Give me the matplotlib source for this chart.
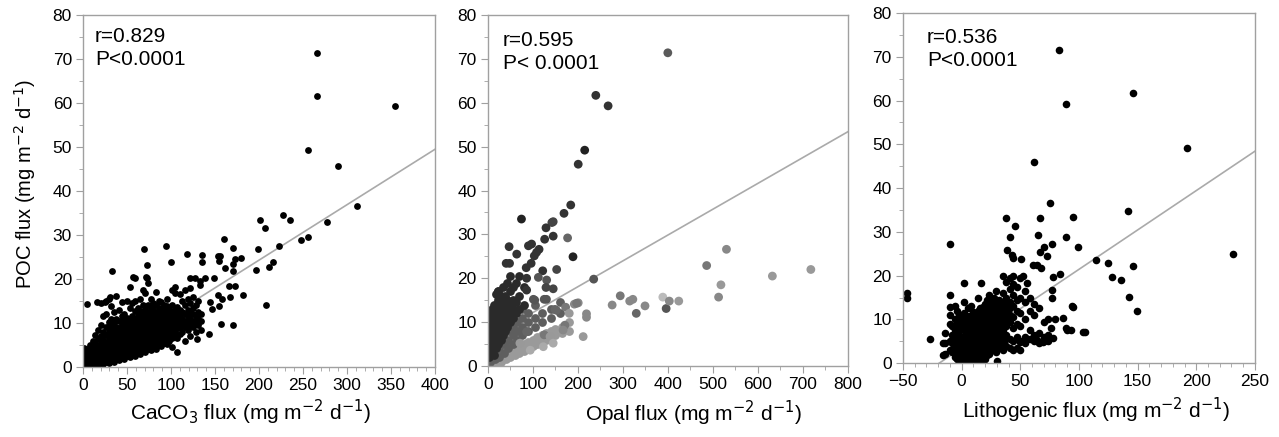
import matplotlib
matplotlib.use("Agg")
import matplotlib.pyplot as plt
from matplotlib.ticker import MultipleLocator

plt.rcParams['font.family'] = ['Liberation Sans', 'DejaVu Sans']

# ---- panel 1: POC vs CaCO3 flux ----
# dense cloud, one entry per CaCO3 column: (caco3, [poc values])
ca_cloud = [
    (1, [0.3, 1.2, 2.2, 3.4, 4.3]),
    (3, [0.5, 1.5, 2.8]),
    (5, [0.2, 1.0, 2.0, 3.0, 4.2]),
    (8, [0.5, 1.6, 2.6, 3.6, 5.0]),
    (11, [0.3, 1.2, 2.3, 3.4, 4.5, 6.0]),
    (14, [0.8, 1.8, 2.9, 4.0, 5.5, 7.2]),
    (17, [0.5, 1.5, 2.6, 3.7, 4.8, 6.3, 8.5]),
    (20, [1.0, 2.0, 3.1, 4.2, 5.4, 7.0, 9.5, 14.5]),
    (23, [0.6, 1.6, 2.7, 3.8, 5.0, 6.2, 8.0, 11.5]),
    (26, [1.2, 2.3, 3.4, 4.6, 5.8, 7.2, 9.0, 12.0, 15.0]),
    (29, [1.0, 2.0, 3.1, 4.2, 5.4, 6.6, 8.2, 10.2, 15.5]),
    (32, [1.5, 2.6, 3.7, 4.9, 6.1, 7.4, 9.0, 11.0, 13.8]),
    (35, [1.2, 2.3, 3.5, 4.7, 5.9, 7.1, 8.5, 10.0, 12.5]),
    (38, [1.8, 3.0, 4.2, 5.4, 6.6, 7.8, 9.2, 11.0, 16.2]),
    (41, [1.5, 2.7, 3.9, 5.1, 6.3, 7.5, 8.8, 10.4, 13.0]),
    (44, [2.2, 3.4, 4.6, 5.8, 7.0, 8.2, 9.5, 11.5, 14.8]),
    (47, [1.8, 3.0, 4.3, 5.5, 6.7, 7.9, 9.1, 10.6, 12.0]),
    (50, [2.5, 3.7, 4.9, 6.1, 7.3, 8.5, 9.8, 11.2, 15.0]),
    (53, [2.2, 3.4, 4.6, 5.8, 7.0, 8.2, 9.4, 10.8, 13.5, 18.2]),
    (56, [2.8, 4.0, 5.2, 6.4, 7.6, 8.8, 10.0, 11.5, 14.5]),
    (59, [2.6, 3.8, 5.0, 6.2, 7.4, 8.6, 9.8, 11.0, 12.8, 15.0]),
    (62, [3.2, 4.4, 5.6, 6.8, 8.0, 9.2, 10.4, 11.8, 13.5]),
    (65, [3.0, 4.2, 5.4, 6.6, 7.8, 9.0, 10.2, 11.4, 12.8, 15.5]),
    (68, [3.6, 4.8, 6.0, 7.2, 8.4, 9.6, 10.8, 12.2, 14.0, 17.5]),
    (71, [3.4, 4.6, 5.8, 7.0, 8.2, 9.4, 10.6, 11.8, 13.2, 16.8]),
    (74, [4.0, 5.2, 6.4, 7.6, 8.8, 10.0, 11.2, 12.5, 14.0, 19.2]),
    (77, [3.8, 5.0, 6.2, 7.4, 8.6, 9.8, 11.0, 12.2, 13.6, 15.5]),
    (80, [4.5, 5.7, 6.9, 8.1, 9.3, 10.5, 11.7, 13.0, 14.5]),
    (83, [4.2, 5.4, 6.6, 7.8, 9.0, 10.2, 11.4, 12.6, 14.0, 17.0]),
    (86, [5.0, 6.2, 7.4, 8.6, 9.8, 11.0, 12.2, 13.5, 15.0]),
    (89, [4.8, 6.0, 7.2, 8.4, 9.6, 10.8, 12.0, 13.2, 14.8]),
    (92, [5.5, 6.7, 7.9, 9.1, 10.3, 11.5, 12.7, 14.0]),
    (95, [5.2, 6.4, 7.6, 8.8, 10.0, 11.2, 12.4, 13.8, 15.5]),
    (98, [6.0, 7.2, 8.4, 9.6, 10.8, 12.0, 13.2]),
    (101, [4.5, 6.5, 7.7, 8.9, 10.1, 11.3, 12.5, 14.0, 17.5]),
    (104, [7.0, 8.2, 9.4, 10.6, 11.8, 13.0, 16.8, 18.2]),
    (107, [6.5, 8.8, 10.0, 11.2, 12.4, 13.6]),
    (110, [7.5, 9.0, 10.5, 12.0, 13.0, 16.5]),
    (113, [8.0, 9.5, 11.0, 12.5, 15.0]),
    (116, [6.0, 9.0, 10.5, 12.0, 14.0, 17.5]),
    (119, [8.5, 10.0, 11.5, 13.0, 15.5]),
    (122, [7.0, 9.5, 11.0, 12.5, 14.5, 18.0]),
    (125, [9.0, 10.5, 12.0, 13.5, 16.0]),
    (128, [8.0, 10.0, 11.5, 14.0]),
    (131, [9.5, 11.0, 12.5, 15.0]),
    (134, [8.5, 10.5, 12.0]),
]
# scattered points (caco3, poc)
ca_outliers = [
    (265.7, 71.3), (265.7, 61.6), (354.6, 59.4), (255.4, 49.4), (289.5, 45.8),
    (311.8, 36.5), (277.8, 33.0), (201, 33.4), (207, 31.7), (227, 34.5),
    (235.5, 33.4), (223, 27.5), (247.5, 28.8), (255.4, 29.6), (199, 26.8),
    (196.8, 22.0), (211, 22.7), (215.7, 23.9), (207.8, 14.0), (160.5, 29.1),
    (171, 27.1), (171, 23.5), (173, 24.6), (179, 24.8), (153, 25.2),
    (156, 25.2), (154.5, 24.0), (160.8, 22.5), (149, 20.3), (171, 21.8),
    (165.4, 18.4), (173, 18.4), (181.3, 16.3), (171, 9.5), (156.7, 9.9),
    (153, 16.3), (158, 15.4), (167, 15.9), (147, 13.3), (155, 13.8),
    (144, 14.9), (118.5, 25.6), (134.7, 25.5), (134.7, 23.8), (99.5, 23.9),
    (94, 27.5), (68.9, 26.8), (72.7, 23.1), (72.7, 20.3), (59.4, 20.3),
    (33, 21.8), (4.5, 14.3), (122, 20.3), (127.5, 20.3), (133, 19.5),
    (139, 20.3), (133, 18.7), (142.7, 7.5), (129.4, 6.4), (106.7, 3.4),
    (15.5, 14.8), (25, 14.8), (30.7, 16.0), (57, 20.4), (72, 20.4),
]
ca_fit = (-0.9, 0.126)   # intercept, slope

# ---- panel 2: POC vs Opal flux (grey level per point) ----
op_dark = [
    (3, [2, 4, 6, 8, 10, 12]),
    (8, [3, 5, 7, 9, 11, 13]),
    (13, [2.5, 4.5, 6.5, 8.5, 10.5, 12.5, 14]),
    (18, [4, 6, 8, 10, 12, 14, 16.5]),
    (23, [5, 7, 9, 11, 13, 15, 17]),
    (28, [6, 8, 10, 12, 14, 16]),
    (33, [7, 9, 11, 13, 15, 18]),
    (38, [8, 10, 12, 14, 16]),
    (43, [9, 11, 13, 15, 19]),
    (48, [10, 12, 14, 17, 20.5]),
    (55, [11, 13, 15, 18]),
    (62, [12, 14.5, 19]),
    (70, [13, 16, 20.5]),
    (80, [14, 18]),
]
op_mid = [
    (5, [1, 3, 5]),
    (15, [1.5, 3.5]),
    (25, [2, 4]),
    (35, [3, 5]),
    (45, [4, 6, 8]),
    (55, [5, 7, 9]),
    (65, [6, 8, 10]),
    (75, [7, 9, 11, 13]),
    (90, [8, 10, 12]),
    (105, [9, 11, 14]),
    (120, [10, 12]),
    (140, [11, 13]),
    (160, [12, 14.5]),
]
op_light = [
    (2, [0.5]),
    (10, [0.5, 1.5]),
    (20, [0.8, 2]),
    (30, [1, 2.5]),
    (40, [1.5, 3]),
    (50, [2, 3.5]),
    (60, [2.5, 4]),
    (70, [3, 4.5]),
    (80, [3.5, 5]),
    (90, [4, 5.5]),
    (100, [4.5, 6]),
    (110, [5, 6.5]),
    (120, [5.5, 7]),
    (130, [6, 7.5]),
    (140, [6.5, 8]),
    (150, [7, 8.5]),
    (165, [7.5, 9]),
    (180, [8, 10]),
]
# scattered points (opal, poc, grey)
op_outliers = [
    (399.7, 71.4, '#5a5a5a'), (239.7, 61.7, '#333333'), (267, 59.3, '#333333'),
    (215, 49.2, '#222222'), (200.6, 46.0, '#333333'), (184, 36.7, '#333333'),
    (169, 34.8, '#333333'), (145, 32.9, '#444444'), (142, 32.7, '#444444'),
    (129, 31.5, '#333333'), (145, 29.6, '#333333'), (126, 28.9, '#333333'),
    (177, 29.2, '#666666'), (74.5, 33.5, '#222222'), (97, 27.8, '#333333'),
    (90, 27.4, '#333333'), (113.6, 26.6, '#333333'), (47, 27.2, '#333333'),
    (64, 25.5, '#333333'), (40.5, 23.4, '#333333'), (48, 23.4, '#333333'),
    (103, 25.1, '#333333'), (108, 25.9, '#333333'), (96, 23.4, '#333333'),
    (85, 22.4, '#333333'), (189, 24.9, '#222222'), (152.7, 22.0, '#444444'),
    (121.7, 21.7, '#333333'), (235, 19.8, '#555555'), (86, 20.0, '#333333'),
    (112, 20.2, '#555555'), (130.5, 19.6, '#555555'), (129, 17.9, '#444444'),
    (145, 17.6, '#444444'), (86, 17.3, '#333333'), (101, 15.2, '#555555'),
    (104, 15.0, '#555555'), (125, 15.2, '#555555'), (130, 15.2, '#555555'),
    (149, 12.9, '#666666'), (152, 12.7, '#666666'), (172.6, 13.4, '#777777'),
    (192, 14.1, '#888888'), (200.6, 14.4, '#888888'), (180.7, 12.0, '#999999'),
    (219, 11.9, '#888888'), (219, 11.1, '#888888'), (171, 9.3, '#777777'),
    (211.6, 6.7, '#999999'), (125, 7.1, '#777777'), (86, 7.8, '#666666'),
    (294, 16.0, '#777777'), (276, 13.9, '#888888'), (315, 14.8, '#888888'),
    (322, 15.2, '#888888'), (329.6, 12.0, '#666666'), (349, 13.7, '#888888'),
    (388.6, 15.7, '#bbbbbb'), (396, 13.1, '#555555'), (403, 14.8, '#888888'),
    (424, 14.8, '#999999'), (486, 22.9, '#777777'), (530, 26.6, '#888888'),
    (517.7, 18.5, '#999999'), (512.5, 15.7, '#888888'), (632, 20.5, '#999999'),
    (717.5, 22.0, '#999999'), (71, 5.2, '#999999'), (123, 4.4, '#aaaaaa'),
    (138, 6.7, '#999999'), (167, 8.2, '#888888'), (197, 14.3, '#777777'),
    (145, 5.2, '#aaaaaa'), (94, 3.6, '#aaaaaa'), (23, 16.9, '#2a2a2a'),
]
op_fit = (6.3, 0.0589)

# ---- panel 3: POC vs Lithogenic flux ----
li_cloud = [
    (-14, [2.0, 4.5, 7.0]),
    (-10, [3.0, 5.0, 9.0, 11.0]),
    (-6, [1.5, 3.5, 5.5, 7.5, 10.0, 13.0]),
    (-2, [0.5, 2.5, 4.5, 6.5, 8.5, 11.0]),
    (2, [0.3, 1.5, 3.0, 4.5, 6.0, 7.5, 9.0, 11.5, 14.0]),
    (5, [0.8, 2.2, 3.6, 5.0, 6.4, 7.8, 9.5, 12.5]),
    (8, [0.3, 1.5, 3.0, 4.5, 6.0, 7.5, 9.0, 10.5, 13.0]),
    (11, [0.8, 2.2, 3.6, 5.0, 6.4, 7.8, 9.2, 11.0]),
    (14, [0.5, 1.8, 3.2, 4.6, 6.0, 7.4, 8.8, 10.2, 12.0, 15.0]),
    (17, [1.2, 2.6, 4.0, 5.4, 6.8, 8.2, 9.6, 11.0]),
    (20, [1.0, 3.0, 4.6, 6.0, 7.4, 8.8, 10.2, 11.6, 13.5]),
    (23, [2.2, 4.0, 5.6, 7.0, 8.4, 9.8, 11.2, 12.6, 15.5]),
    (26, [3.0, 4.8, 6.4, 7.8, 9.2, 10.6, 12.0, 14.0]),
    (29, [2.5, 4.2, 5.8, 7.2, 8.6, 10.0, 11.4, 13.0, 16.5]),
    (32, [3.5, 5.5, 7.0, 8.5, 10.0, 11.5, 13.0, 14.5]),
    (35, [3.0, 5.0, 7.5, 9.0, 10.5, 12.0, 13.5, 16.0, 20.0]),
    (38, [4.0, 6.5, 8.5, 10.0, 11.5, 13.0, 15.0, 18.5]),
    (41, [3.5, 5.5, 9.5, 11.0, 12.5, 14.0, 17.0, 19.5]),
    (44, [3.0, 5.0, 8.0, 10.5, 13.0, 15.5, 18.0, 20.0]),
    (47, [3.5, 6.0, 9.0, 12.0, 14.5, 17.5]),
    (50, [3.0, 5.0, 8.5, 11.5, 15.0, 19.5]),
    (54, [4.5, 6.0, 10.0, 14.0, 16.5]),
    (58, [5.5, 7.5, 12.0, 15.0]),
    (62, [5.0, 6.5, 11.0, 13.5]),
    (66, [4.5, 7.0, 12.5]),
    (70, [5.0, 6.0, 9.5]),
    (74, [5.0, 6.5, 10.0]),
]
# extra points filling the solid core of the lithogenic cloud
li_core = [
    (-8, [2.5, 4.5, 6.5, 8.5]),
    (-4, [1.0, 3.0, 5.0, 7.0, 9.0, 12.0]),
    (0, [0.2, 1.8, 3.8, 5.8, 7.8, 9.8]),
    (3.5, [0.6, 2.4, 4.0, 5.6, 7.0, 8.4, 10.5]),
    (6.5, [0.1, 1.6, 3.2, 4.8, 6.8, 8.6, 10.8]),
    (9.5, [0.5, 2.0, 3.8, 5.6, 7.0, 8.2, 11.8]),
    (12.5, [0.2, 1.2, 2.8, 4.2, 5.8, 7.0, 9.8]),
    (15.5, [0.8, 2.2, 3.6, 5.0, 6.4, 8.0, 9.5, 12.5]),
    (18.5, [0.4, 2.0, 3.4, 5.0, 7.8, 10.5, 12.8]),
    (21.5, [1.8, 3.5, 5.2, 6.8, 9.5, 12.0, 14.5]),
    (24.5, [3.5, 5.2, 7.2, 8.8, 10.5, 13.0]),
    (27.5, [4.5, 6.5, 8.2, 9.8, 11.5, 13.5, 15.0]),
    (30.5, [3.8, 6.0, 8.0, 9.5, 11.0, 12.5]),
    (33.5, [4.5, 6.5, 8.5, 10.0, 12.0, 14.0]),
    (36.5, [5.0, 9.5, 11.5, 13.5]),
]
li_outliers = [
    (83.1, 71.5), (146.4, 61.7), (89.1, 59.3), (191.8, 49.2), (62.1, 45.9),
    (75.5, 36.7), (141.9, 34.7), (37.7, 33.1), (66.4, 33.1), (95.3, 33.5),
    (45.1, 31.4), (89.1, 28.9), (64.7, 29.3), (40.9, 28.9), (-10.3, 27.2),
    (99.6, 26.5), (76.9, 27.2), (70.4, 26.5), (67, 25.3), (73, 24.5),
    (38.6, 25.9), (43, 24.7), (44, 24.0), (51, 23.8), (61, 22.4),
    (64, 22.4), (68, 21.7), (114.6, 23.6), (125, 22.8), (146.4, 22.1),
    (231, 24.9), (128.5, 19.6), (135.6, 18.9), (143, 15.2), (149.3, 11.9),
    (84, 20.4), (78, 19.6), (77, 16.7), (77, 14.8), (94, 13.1),
    (95, 12.8), (105.3, 7.1), (93.3, 7.5), (88.7, 8.0), (86.7, 10.3),
    (79.7, 10.0), (76, 8.0), (-46.6, 16.0), (-46.6, 14.8), (-10.3, 15.6),
    (-27.3, 5.5), (1.7, 18.4), (16.4, 18.4), (30, 0.6), (55.6, 18.4),
    (52, 19.9), (-15.6, 4.5), (-15.6, 1.8), (-10, 12.9), (49.7, 4.9),
    (64, 5.3), (69.7, 4.9), (78, 5.7), (89.5, 7.5), (103.5, 7.2),
]
li_fit = (3.44, 0.180)


def unpack(cols):
    xs, ys = [], []
    for x, vals in cols:
        for v in vals:
            xs.append(x)
            ys.append(v)
    return xs, ys


def style_axes(ax, x_minor, y_minor=5):
    for s in ax.spines.values():
        s.set_color('#a0a0a0')
        s.set_linewidth(1.0)
    ax.tick_params(which='both', direction='out', color='#a0a0a0',
                   labelsize=12.5, top=False, right=False, pad=3)
    ax.tick_params(which='major', length=5)
    ax.tick_params(which='minor', length=3)
    ax.xaxis.set_minor_locator(MultipleLocator(x_minor))
    ax.yaxis.set_minor_locator(MultipleLocator(y_minor))
    ax.yaxis.set_major_locator(MultipleLocator(10))
    ax.set_ylim(0, 80)


fig = plt.figure(figsize=(12.79, 4.37), dpi=100)
ax1 = fig.add_axes([0.0649, 0.160, 0.2752, 0.8055])
ax2 = fig.add_axes([0.3815, 0.1625, 0.2815, 0.803])
ax3 = fig.add_axes([0.7060, 0.169, 0.2752, 0.801])

lab = 'flux (mg m$^{-2}$ d$^{-1}$)'

# panel 1
ax1.plot([0, 400], [ca_fit[0], ca_fit[0] + ca_fit[1] * 400], color='#aaaaaa', lw=1.2, zorder=1)
cx, cy = unpack(ca_cloud)
cx += [p[0] for p in ca_outliers]
cy += [p[1] for p in ca_outliers]
ax1.scatter(cx, cy, s=24, c='black', linewidths=0, zorder=2)
ax1.set_xlim(0, 400)
ax1.xaxis.set_major_locator(MultipleLocator(50))
style_axes(ax1, 10)
ax1.set_xlabel('CaCO$_3$ ' + lab, fontsize=15)
ax1.xaxis.set_label_coords(0.477, -0.13)
ax1.xaxis.label.set_va('center')
ax1.set_ylabel('POC ' + lab, fontsize=14.5)
ax1.yaxis.set_label_coords(-0.165, 0.52)
ax1.yaxis.label.set_va('center')
ax1.text(0.034, 0.94, 'r=0.829', transform=ax1.transAxes, fontsize=15, va='center')
ax1.text(0.034, 0.875, 'P<0.0001', transform=ax1.transAxes, fontsize=15, va='center')

# panel 2
ax2.plot([0, 800], [op_fit[0], op_fit[0] + op_fit[1] * 800], color='#aaaaaa', lw=1.2, zorder=1)
for cols, col in [(op_light, '#9a9a9a'), (op_mid, '#5e5e5e'), (op_dark, '#2a2a2a')]:
    xs, ys = unpack(cols)
    ax2.scatter(xs, ys, s=40, c=col, linewidths=0, zorder=2)
ax2.scatter([p[0] for p in op_outliers], [p[1] for p in op_outliers],
            s=40, c=[p[2] for p in op_outliers], linewidths=0, zorder=3)
ax2.set_xlim(0, 800)
ax2.xaxis.set_major_locator(MultipleLocator(100))
style_axes(ax2, 50)
ax2.set_xlabel('Opal ' + lab, fontsize=15)
ax2.xaxis.set_label_coords(0.572, -0.134)
ax2.xaxis.label.set_va('center')
ax2.text(0.042, 0.927, 'r=0.595', transform=ax2.transAxes, fontsize=15, va='center')
ax2.text(0.042, 0.863, 'P< 0.0001', transform=ax2.transAxes, fontsize=15, va='center')

# panel 3
ax3.plot([-19.1, 250], [li_fit[0] + li_fit[1] * -19.1, li_fit[0] + li_fit[1] * 250],
         color='#aaaaaa', lw=1.2, zorder=1)
lx, ly = unpack(li_cloud + li_core)
lx += [p[0] for p in li_outliers]
ly += [p[1] for p in li_outliers]
ax3.scatter(lx, ly, s=30, c='black', linewidths=0, zorder=2)
ax3.set_xlim(-50, 250)
ax3.xaxis.set_major_locator(MultipleLocator(50))
style_axes(ax3, 10)
ax3.set_xlabel('Lithogenic ' + lab, fontsize=15)
ax3.xaxis.set_label_coords(0.548, -0.134)
ax3.xaxis.label.set_va('center')
ax3.text(0.068, 0.931, 'r=0.536', transform=ax3.transAxes, fontsize=15, va='center')
ax3.text(0.068, 0.866, 'P<0.0001', transform=ax3.transAxes, fontsize=15, va='center')

fig.savefig('out.png', dpi=100)
